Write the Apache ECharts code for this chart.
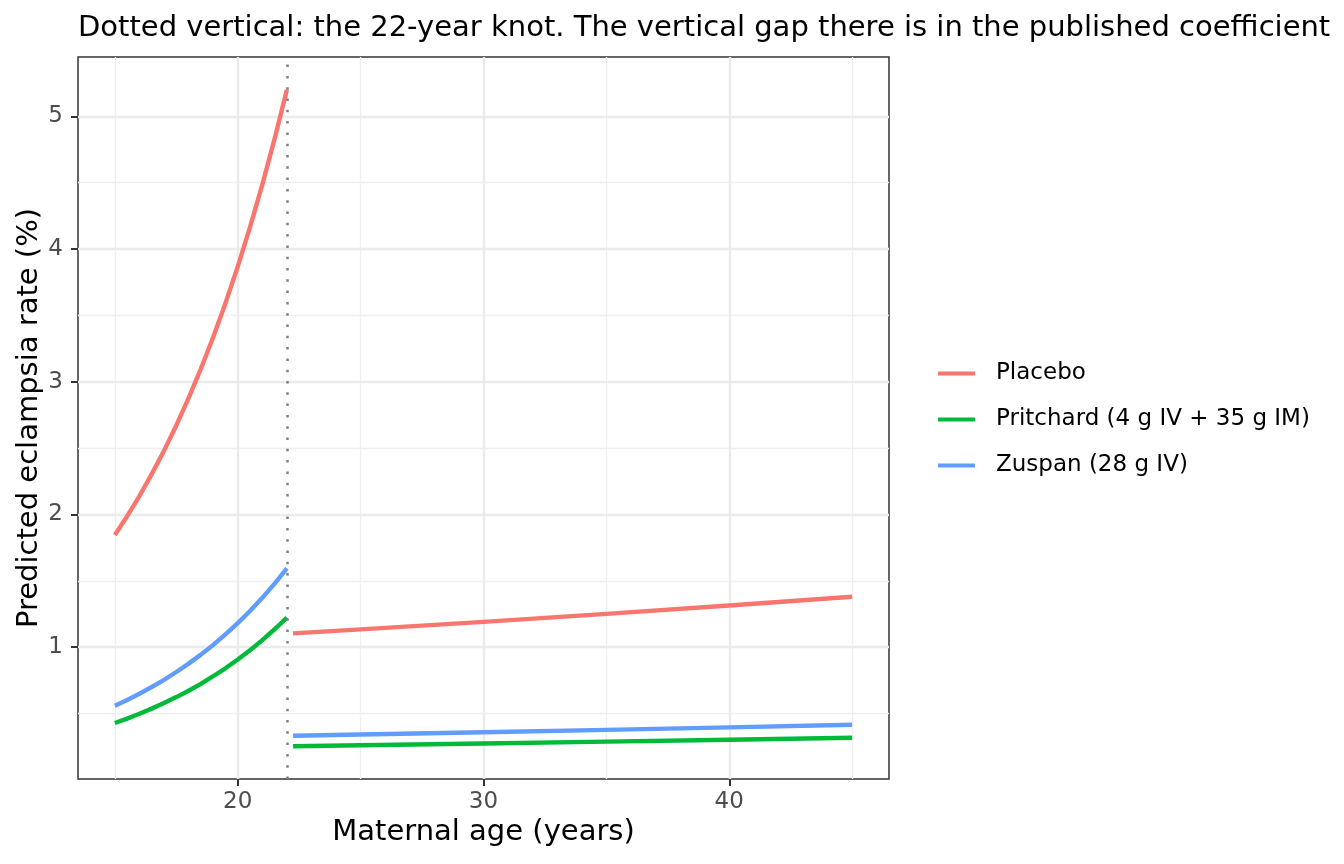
<!DOCTYPE html>
<html>
<head>
<meta charset="utf-8">
<script src="https://cdn.jsdelivr.net/npm/echarts@6/dist/echarts.min.js"></script>
<style>
html,body{margin:0;padding:0;background:#fff;}
#chart{width:1344px;height:864px;}
</style>
</head>
<body>
<div id="chart"></div>
<script>
// ---- data ----
const titleText = 'Dotted vertical: the 22-year knot. The vertical gap there is in the published coefficient';
const seriesNames = ['Placebo', 'Pritchard (4 g IV + 35 g IM)', 'Zuspan (28 g IV)'];
const seriesColors = ['#F8766D', '#00BA38', '#619CFF'];

// segment before the knot (age <= 22)
const ages1 = [15, 15.5, 16, 16.5, 17, 17.5, 18, 18.5, 19, 19.5, 20, 20.5, 21, 21.5, 22];
const placebo1 = [1.845, 1.987, 2.139, 2.304, 2.481, 2.671, 2.877, 3.098, 3.336, 3.592, 3.868, 4.165, 4.485, 4.830, 5.200];
const pritchard1 = [0.429, 0.462, 0.498, 0.537, 0.579, 0.624, 0.672, 0.724, 0.781, 0.841, 0.907, 0.977, 1.053, 1.135, 1.223];
const zuspan1 = [0.559, 0.602, 0.649, 0.700, 0.754, 0.813, 0.876, 0.944, 1.017, 1.096, 1.181, 1.273, 1.372, 1.479, 1.594];

// segment after the knot (age > 22)
const ages2 = [22.25, 25, 30, 35, 40, 45];
const placebo2 = [1.104, 1.134, 1.191, 1.251, 1.314, 1.380];
const pritchard2 = [0.254, 0.261, 0.274, 0.288, 0.302, 0.317];
const zuspan2 = [0.333, 0.342, 0.359, 0.377, 0.396, 0.416];

const knotAge = 22;
const xTicks = [20, 30, 40];
const xMinor = [15, 25, 35, 45];
const yTicks = [1, 2, 3, 4, 5];
const yMinor = [0.5, 1.5, 2.5, 3.5, 4.5];

// ---- build ----
const FONT = 'DejaVu Sans';
function pairs(xs, ys) { return xs.map((x, i) => [x, ys[i]]); }

const allY = [].concat(placebo1, pritchard1, zuspan1, placebo2, pritchard2, zuspan2);
const allX = [].concat(ages1, ages2);
const yLo = Math.min.apply(null, allY), yHi = Math.max.apply(null, allY);
const xLo = Math.min.apply(null, allX), xHi = Math.max.apply(null, allX);
const yPad = (yHi - yLo) * 0.05, xPad = (xHi - xLo) * 0.05;

const segs = [
  [seriesNames[0], seriesColors[0], pairs(ages1, placebo1)],
  [seriesNames[1], seriesColors[1], pairs(ages1, pritchard1)],
  [seriesNames[2], seriesColors[2], pairs(ages1, zuspan1)],
  [seriesNames[0], seriesColors[0], pairs(ages2, placebo2)],
  [seriesNames[1], seriesColors[1], pairs(ages2, pritchard2)],
  [seriesNames[2], seriesColors[2], pairs(ages2, zuspan2)]
];

const majorLine = { color: '#EBEBEB', width: 2.4, type: 'solid' };
const minorLine = { color: '#EFEFEF', width: 1.3, type: 'solid' };

const series = [];
// grid lines (drawn through the axes via markLine)
series.push({
  type: 'line', name: '__grid', data: [], silent: true, z: 1,
  markLine: {
    silent: true, symbol: ['none', 'none'], z: 1, animation: false,
    label: { show: false },
    data: []
      .concat(xMinor.map(v => ({ xAxis: v, lineStyle: minorLine })))
      .concat(yMinor.map(v => ({ yAxis: v, lineStyle: minorLine })))
      .concat(xTicks.map(v => ({ xAxis: v, lineStyle: majorLine })))
      .concat(yTicks.map(v => ({ yAxis: v, lineStyle: majorLine })))
  }
});
segs.forEach(s => {
  series.push({
    type: 'line', name: s[0], data: s[2], showSymbol: false, symbol: 'none',
    smooth: false, z: 3,
    lineStyle: { color: s[1], width: 4.4, cap: 'butt', join: 'round' },
    itemStyle: { color: s[1] }
  });
});
// knot line
series.push({
  type: 'line', name: '__knot', data: [], silent: true, z: 4,
  markLine: {
    silent: true, symbol: ['none', 'none'], z: 6, animation: false,
    label: { show: false },
    data: [{ xAxis: knotAge }],
    lineStyle: { color: '#7F7F7F', width: 2.5, type: [2.5, 8.8], cap: 'butt' }
  }
});

const chart = echarts.init(document.getElementById('chart'), null, { renderer: 'canvas' });
chart.setOption({
  animation: false,
  backgroundColor: '#ffffff',
  title: {
    text: titleText, left: 78, top: 14, padding: 0,
    textStyle: { fontFamily: FONT, fontSize: 29, fontWeight: 'normal', color: '#000000' }
  },
  legend: {
    orient: 'vertical', left: 938, top: 361.5, padding: 0,
    data: seriesNames.map(n => ({ name: n, icon: 'rect' })),
    itemWidth: 37, itemHeight: 4, itemGap: 22,
    textStyle: { fontFamily: FONT, fontSize: 23, color: '#000000', lineHeight: 24, padding: [0, 0, 0, 16] },
    selectedMode: false
  },
  grid: {
    left: 78, right: 455, top: 57, bottom: 85,
    show: true, borderColor: '#333333', borderWidth: 1.5, backgroundColor: 'transparent',
    containLabel: false, outerBoundsMode: 'none'
  },
  xAxis: {
    type: 'value', min: xLo - xPad, max: xHi + xPad,
    name: 'Maternal age (years)', nameLocation: 'middle', nameGap: 39, nameMoveOverlap: false,
    nameTextStyle: { fontFamily: FONT, fontSize: 29, color: '#000000' },
    axisLine: { show: false },
    splitLine: { show: false },
    axisTick: { show: true, customValues: xTicks, length: 7, lineStyle: { color: '#333333', width: 2 } },
    axisLabel: { customValues: xTicks, fontFamily: FONT, fontSize: 23, color: '#4D4D4D', margin: 12 }
  },
  yAxis: {
    type: 'value', min: yLo - yPad, max: yHi + yPad,
    name: 'Predicted eclampsia rate (%)', nameLocation: 'middle', nameGap: 34, nameMoveOverlap: false,
    nameTextStyle: { fontFamily: FONT, fontSize: 29, color: '#000000' },
    axisLine: { show: false },
    splitLine: { show: false },
    axisTick: { show: true, customValues: yTicks, length: 7, lineStyle: { color: '#333333', width: 2 } },
    axisLabel: { customValues: yTicks, fontFamily: FONT, fontSize: 23, color: '#4D4D4D', margin: 15 }
  },
  series: series
});
</script>
</body>
</html>
